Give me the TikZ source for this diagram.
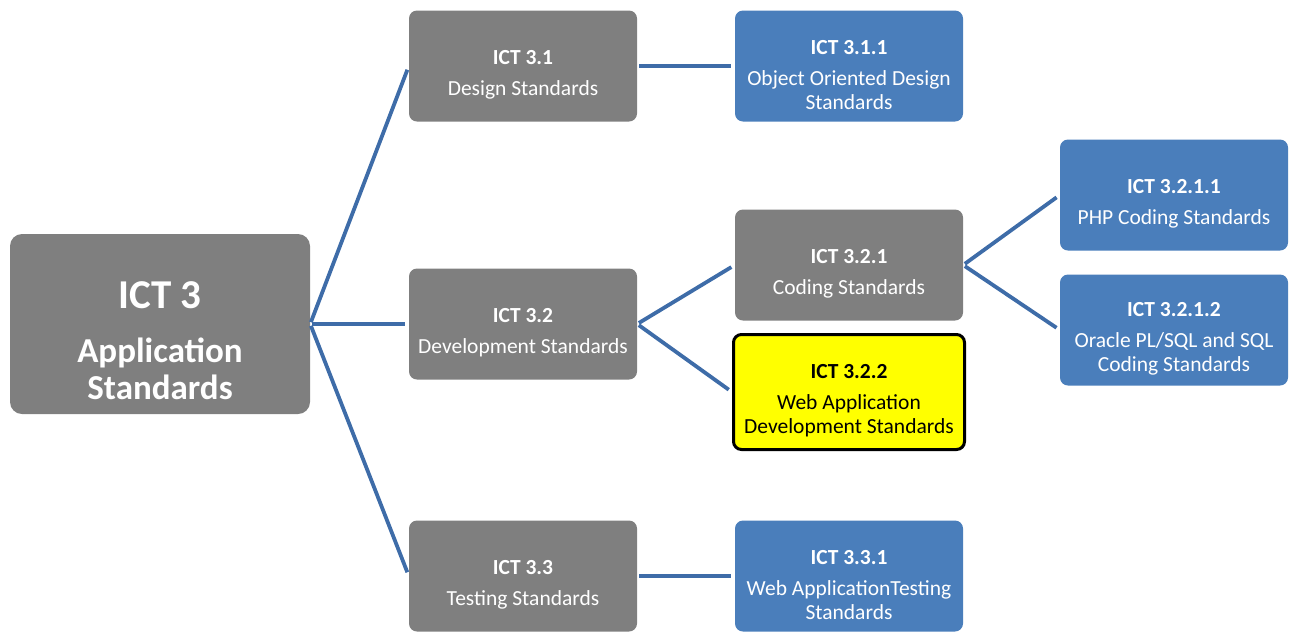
\documentclass[tikz,border=0pt]{standalone}
\usepackage{fontspec}
\setmainfont{Carlito}
\definecolor{boxgray}{RGB}{127,127,127}
\definecolor{boxblue}{RGB}{74,126,187}
\definecolor{linkblue}{RGB}{62,108,168}
\definecolor{hiyellow}{RGB}{255,255,0}
\begin{document}
\begin{tikzpicture}[x=1pt,y=-1pt,
  box/.style={rounded corners=8pt, minimum width=228pt, minimum height=111pt, inner sep=0pt},
  lbl/.style={align=center, text=white, font=\fontsize{21.5}{24}\selectfont, yshift=-9pt, inner sep=0pt},
  graybox/.style={box, fill=boxgray},
  bluebox/.style={box, fill=boxblue},
  yellowbox/.style={box, fill=hiyellow, draw=black, line width=3pt, minimum width=231pt, minimum height=115pt},
  rootbox/.style={rounded corners=12pt, fill=boxgray, minimum width=300pt, minimum height=180pt, inner sep=0pt},
  rootlbl/.style={align=center, text=white, inner sep=0pt, yshift=-17pt, font=\fontsize{35}{37}\selectfont\bfseries},
  conn/.style={draw=linkblue, line width=3.8pt, shorten <=2pt, shorten >=4pt}]
\useasboundingbox (0,0) rectangle (1289,633);
\node[rootbox, label={[rootlbl]center:{\fontsize{41}{44}\selectfont ICT 3\\[17pt]\fontsize{35}{37}\selectfont Application\\ Standards}}] (root) at (160,324) {};
\node[graybox, label={[lbl]center:{\textbf{ICT 3.1}\\[7pt]Design Standards}}] (n31) at (523,66) {};
\node[bluebox, label={[lbl]center:{\textbf{ICT 3.1.1}\\[7pt]Object Oriented Design\\ Standards}}] (n311) at (849,66) {};
\node[graybox, label={[lbl]center:{\textbf{ICT 3.2}\\[7pt]Development Standards}}] (n32) at (523,324) {};
\node[graybox, label={[lbl]center:{\textbf{ICT 3.2.1}\\[7pt]Coding Standards}}] (n321) at (849,265) {};
\node[yellowbox, label={[lbl,text=black]center:{\textbf{ICT 3.2.2}\\[7pt]Web Application\\ Development Standards}}] (n322) at (849,392) {};
\node[bluebox, label={[lbl]center:{\textbf{ICT 3.2.1.1}\\[7pt]PHP Coding Standards}}] (n3211) at (1174,195) {};
\node[bluebox, label={[lbl]center:{\textbf{ICT 3.2.1.2}\\[7pt]Oracle PL/SQL and SQL\\ Coding Standards}}] (n3212) at (1174,330) {};
\node[graybox, label={[lbl]center:{\textbf{ICT 3.3}\\[7pt]Testing Standards}}] (n33) at (523,576) {};
\node[bluebox, label={[lbl]center:{\textbf{ICT 3.3.1}\\[7pt]Web ApplicationTesting\\ Standards}}] (n331) at (849,576) {};
\draw[conn] (root.east) -- (n31.west);
\draw[conn] (root.east) -- (n32.west);
\draw[conn] (root.east) -- (n33.west);
\draw[conn] (n31.east) -- (n311.west);
\draw[conn] (n33.east) -- (n331.west);
\draw[conn] (n32.east) -- (n321.west);
\draw[conn] (n32.east) -- (n322.west);
\draw[conn] (n321.east) -- (n3211.west);
\draw[conn] (n321.east) -- (n3212.west);
\end{tikzpicture}
\end{document}
